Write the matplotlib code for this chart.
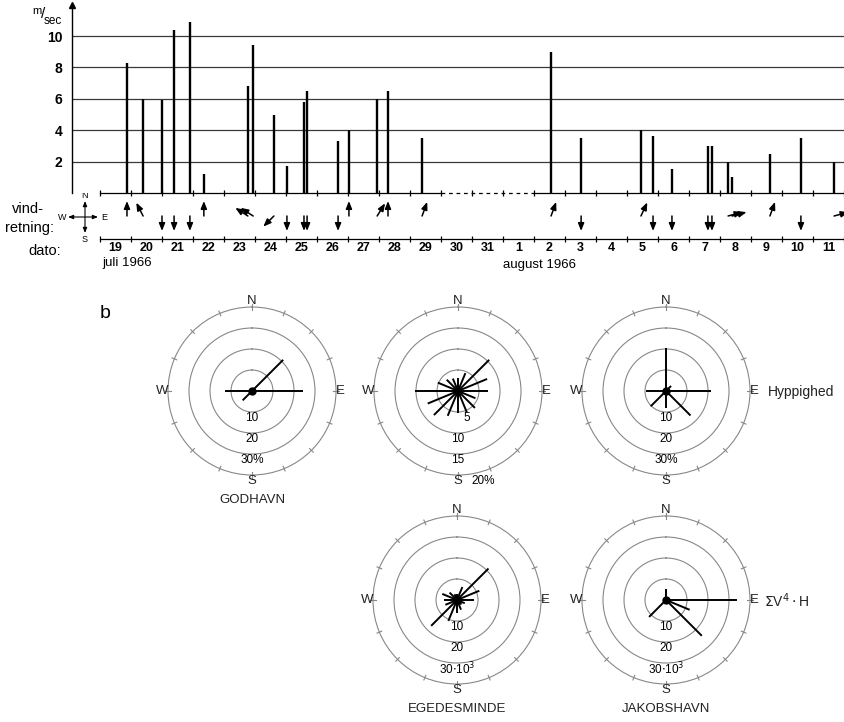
import matplotlib
matplotlib.use('Agg')
import matplotlib.pyplot as plt
import numpy as np

plt.rcParams['font.family'] = ['Liberation Sans', 'DejaVu Sans']

W, H = 844, 722

# ---------------- data ----------------
date_labels = ['19', '20', '21', '22', '23', '24', '25', '26', '27', '28', '29', '30', '31',
               '1', '2', '3', '4', '5', '6', '7', '8', '9', '10', '11']
# observation time in days after 19 July 1966, 00h
bar_day = [0.87, 1.39, 2.00, 2.39, 2.90, 3.35, 4.77, 4.94, 5.61, 6.03, 6.58, 6.68,
           7.68, 8.03, 8.94, 9.29, 10.39, 14.55, 15.52, 17.45, 17.84, 18.45,
           19.61, 19.74, 20.26, 20.39, 21.61, 22.61, 23.68]
bar_speed = [8.3, 6.0, 5.9, 10.4, 10.9, 1.2, 6.8, 9.4, 5.0, 1.7, 5.8, 6.5,
             3.3, 4.0, 6.0, 6.5, 3.5, 9.0, 3.5, 4.0, 3.6, 1.5,
             3.0, 3.0, 2.0, 1.0, 2.5, 3.5, 2.0]
# direction the wind-arrow points to (compass degrees)
arrow_dir = [0, 333, 180, 180, 180, 0, 303, 303, 225, 180, 180, 180,
             180, 0, 32, 0, 20, 20, 180, 25, 180, 180,
             180, 180, 75, 75, 20, 180, 75]
missing_days = (11, 14)   # 30 juli - 1 aug: no observations

rose_dirs = np.arange(0, 360, 22.5)   # N, NNE, NE, ... NNW
godhavn_freq = [0, 0, 21.0, 0, 24.4, 0, 0, 0, 0, 0, 6.3, 0, 13.0, 0, 0, 0]
midt_freq = [3.2, 4.6, 10.5, 7.5, 7.1, 4.5, 5.7, 5.5, 5.3, 6.4, 8.1, 7.8, 10.2, 5.2, 3.8, 3.2]
jakob_freq = [20.3, 0, 3.4, 0, 21.4, 0, 16.5, 0, 8.3, 0, 10.3, 0, 9.5, 0, 0, 0]
egedes_energy = [3.0, 6.7, 21.2, 11.5, 8.0, 4.0, 3.0, 5.0, 6.0, 10.8, 17.4, 6.0, 6.3, 7.6, 5.0, 3.0]
jakob_energy = [5.4, 0, 0, 0, 33.8, 12.2, 24.1, 0, 0, 0, 11.4, 0, 0, 0, 0, 0]

# ---------------- layout helpers ----------------
def rect(x0, y0, w, h):
    return [x0 / W, 1 - (y0 + h) / H, w / W, h / H]

fig = plt.figure(figsize=(W / 100, H / 100), dpi=100)

# overlay in pixel coordinates for free text / decorations
ov = fig.add_axes([0, 0, 1, 1])
ov.set_xlim(0, W)
ov.set_ylim(H, 0)
ov.axis('off')
ov.patch.set_alpha(0)

XMIN, XMAX = (72 - 100) / 31.0, (844 - 100) / 31.0

# ---------------- panel a: bars ----------------
ax = fig.add_axes(rect(72, 5, 772, 188))
ax.set_xlim(XMIN, XMAX)
ax.set_ylim(0, 188 / 15.7)
ax.set_yticks([2, 4, 6, 8, 10])
ax.set_xticks([])
ax.grid(axis='y', color='#3a3a3a', lw=0.9)
ax.tick_params(axis='y', length=0, pad=7, labelsize=10)
for t in ax.get_yticklabels():
    t.set_fontweight('bold')
for s in ['top', 'right', 'bottom']:
    ax.spines[s].set_visible(False)
ax.spines['left'].set_linewidth(1.0)
ax.plot([XMIN], [188 / 15.7], marker='^', color='k', ms=5, clip_on=False)
ax.vlines(bar_day, 0, bar_speed, color='k', lw=1.7, zorder=3)
# baseline
ax.plot([0, missing_days[0]], [0, 0], color='k', lw=0.9, clip_on=False)
ax.plot([missing_days[0], missing_days[1]], [0, 0], color='k', lw=0.9, ls=(0, (3, 3)), clip_on=False)
ax.plot([missing_days[1], len(date_labels)], [0, 0], color='k', lw=0.9, clip_on=False)
bounds = np.arange(0, len(date_labels) + 1)
ax.plot(bounds, np.zeros_like(bounds), ls='none', marker='|', ms=4, mew=0.9, color='k', clip_on=False)

# ---------------- wind direction row & date axis ----------------
aw = fig.add_axes(rect(72, 193, 772, 82))
aw.set_xlim(XMIN, XMAX)
aw.set_ylim(275, 193)
aw.axis('off')
L = 15 * 0.72  # arrow length in points
for d, a in zip(bar_day, arrow_dir):
    r = np.deg2rad(a)
    aw.annotate('', xy=(d, 216), xytext=(L * np.sin(r), L * np.cos(r)), textcoords='offset points',
                arrowprops=dict(arrowstyle='<|-,head_length=0.45,head_width=0.18', color='k',
                                lw=1.1, shrinkA=0, shrinkB=0))
aw.plot([0, len(date_labels)], [239, 239], color='k', lw=0.9)
aw.plot(bounds, np.full(len(bounds), 239), ls='none', marker='|', ms=4, mew=0.9, color='k')
for i, lbl in enumerate(date_labels):
    aw.text(i + 0.5, 248, lbl, ha='center', va='center', fontsize=9, fontweight='bold')

# free texts
ov.text(95, 16, 'a', ha='center', va='center', fontsize=14)
ov.text(37, 11, 'm', ha='center', va='center', fontsize=8)
ov.text(43, 14, '/', ha='center', va='center', fontsize=11)
ov.text(53, 21, 'sec', ha='center', va='center', fontsize=8.5)
ov.text(28, 209, 'vind-', ha='center', va='center', fontsize=10.5)
ov.text(30, 228, 'retning:', ha='center', va='center', fontsize=10.5)
ov.text(45, 251, 'dato:', ha='center', va='center', fontsize=10.5)
ov.text(102, 263, 'juli 1966', ha='left', va='center', fontsize=9.5)
ov.text(503, 265, 'august 1966', ha='left', va='center', fontsize=9.5)
# compass
ov.annotate('', xy=(85, 201), xytext=(85, 233),
            arrowprops=dict(arrowstyle='<|-|>,head_length=0.3,head_width=0.12', color='k', lw=0.8,
                            shrinkA=0, shrinkB=0))
ov.annotate('', xy=(68, 217), xytext=(98, 217),
            arrowprops=dict(arrowstyle='<|-|>,head_length=0.3,head_width=0.12', color='k', lw=0.8,
                            shrinkA=0, shrinkB=0))
ov.text(85, 196, 'N', ha='center', va='center', fontsize=6.5)
ov.text(85, 239, 'S', ha='center', va='center', fontsize=6.5)
ov.text(62, 217, 'W', ha='center', va='center', fontsize=6.5)
ov.text(104, 217, 'E', ha='center', va='center', fontsize=6.5)
ov.text(105, 313, 'b', ha='center', va='center', fontsize=14)

# ---------------- panel b: wind roses ----------------
RING = '#888888'


def rose(cx, cy, vals, rmax, ring_labels, name=None, side=None, side_dx=100, label_offsets=None):
    R = 84
    a = fig.add_axes(rect(cx - R, cy - R, 2 * R, 2 * R), projection='polar')
    a.set_theta_zero_location('N')
    a.set_theta_direction(-1)
    a.set_ylim(0, rmax)
    a.set_yticks([rmax / 4, rmax / 2, 3 * rmax / 4])
    a.set_yticklabels([])
    a.set_xticks([])
    a.grid(True, color=RING, lw=0.8)
    a.spines['polar'].set_color(RING)
    a.spines['polar'].set_linewidth(0.8)
    th = np.deg2rad(rose_dirs)
    for t in th:
        a.plot([t, t], [rmax * 0.97, rmax * 1.03], color=RING, lw=0.8, clip_on=False)
    for t, v in zip(th, vals):
        if v > 0:
            a.plot([t, t], [0, v], color='k', lw=1.4, solid_capstyle='butt')
    a.plot([0], [0], 'o', color='k', ms=5)
    for t, s, rr in zip([0, 90, 180, 270], 'NESW', [1.075, 1.05, 1.075, 1.07]):
        a.text(np.deg2rad(t), rmax * rr, s, ha='center', va='center', fontsize=9.5, color='#222222')
    for i, l in enumerate(ring_labels):
        if label_offsets and label_offsets[i] is not None:
            ang, rr = label_offsets[i]
            a.text(np.deg2rad(ang), rr * rmax, l, ha='center', va='center', fontsize=8.5)
        else:
            a.text(np.pi, rmax * (i + 1) / 4 + 0.075 * rmax, l, ha='center', va='center', fontsize=8.5)
    if name:
        ov.text(cx, cy + 109, name, ha='center', va='center', fontsize=9.5, color='#222222')
    if side:
        ov.text(cx + side_dx, cy + 1, side, ha='left', va='center', fontsize=10, color='#222222')
    return a


rose(252, 391, godhavn_freq, 40, ['10', '20', '30%'], name='GODHAVN')
rose(458, 391, midt_freq, 20, ['5', '10', '15', '20%'],
     label_offsets=[(161.6, 0.34), None, None, (164.5, 1.112)])
rose(666, 391, jakob_freq, 40, ['10', '20', '30%'], side='Hyppighed', side_dx=102)
rose(457, 600, egedes_energy, 40, ['10', '20', r'30$\cdot$10$^3$'], name='EGEDESMINDE')
rose(666, 600, jakob_energy, 40, ['10', '20', r'30$\cdot$10$^3$'], name='JAKOBSHAVN',
     side=r'$\Sigma$V$^4\cdot$H', side_dx=98)

fig.savefig('out.png', dpi=100, facecolor='white')
